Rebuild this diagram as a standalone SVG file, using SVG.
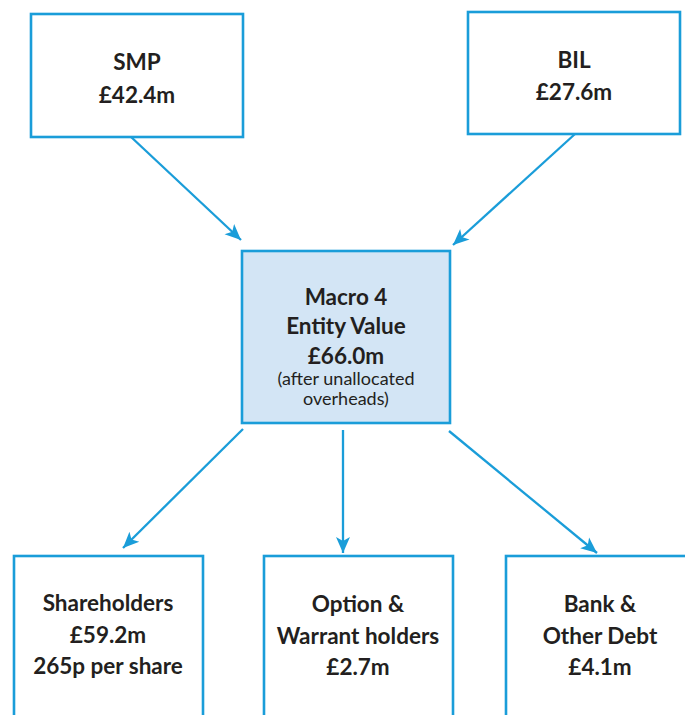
<svg xmlns="http://www.w3.org/2000/svg" width="685" height="715" viewBox="0 0 685 715">
<style>
.box{fill:#ffffff;stroke:#1a9dd9;stroke-width:2.6}
.hub{fill:#d3e5f5;stroke:#1a9dd9;stroke-width:2.6}
.t{font-family:Lato,"Open Sans","Liberation Sans",sans-serif;font-weight:bold;font-size:22.5px;fill:#231f20;text-anchor:middle}
.s{font-family:Lato,"Open Sans","Liberation Sans",sans-serif;font-size:18px;fill:#231f20;text-anchor:middle}
.c{stroke:#1a9dd9;stroke-width:2.3;fill:none}
</style>
<defs>
<marker id="ah" markerUnits="userSpaceOnUse" markerWidth="20" markerHeight="16" refX="16" refY="8" orient="auto">
<path d="M0,1 L16,8 L0,15 L4,8 z" fill="#1a9dd9"/>
</marker>
</defs>
<rect width="685" height="715" fill="#ffffff"/>
<g id="connectors">
<line class="c" x1="130" y1="136" x2="241" y2="240" marker-end="url(#ah)"/>
<line class="c" x1="575" y1="134" x2="453" y2="245" marker-end="url(#ah)"/>
<line class="c" x1="243" y1="429" x2="123" y2="548" marker-end="url(#ah)"/>
<line class="c" x1="343" y1="430" x2="343" y2="553" marker-end="url(#ah)"/>
<line class="c" x1="449" y1="431" x2="597" y2="553" marker-end="url(#ah)"/>
</g>
<g id="smp">
<rect class="box" x="31" y="14" width="212" height="123"/>
<text class="t" x="137" y="70">SMP</text>
<text class="t" x="137" y="103">£42.4m</text>
</g>
<g id="bil">
<rect class="box" x="468" y="12" width="212" height="122"/>
<text class="t" x="574" y="68">BIL</text>
<text class="t" x="574" y="100">£27.6m</text>
</g>
<g id="macro4">
<rect class="hub" x="242" y="251" width="208" height="172"/>
<text class="t" x="346" y="305">Macro 4</text>
<text class="t" x="346" y="334">Entity Value</text>
<text class="t" x="346" y="364">£66.0m</text>
<text class="s" x="346" y="385">(after unallocated</text>
<text class="s" x="346" y="405">overheads)</text>
</g>
<g id="shareholders">
<rect class="box" x="14" y="556" width="189" height="170"/>
<text class="t" x="108" y="611">Shareholders</text>
<text class="t" x="108" y="643">£59.2m</text>
<text class="t" x="108" y="674">265p per share</text>
</g>
<g id="options">
<rect class="box" x="264" y="556" width="189" height="170"/>
<text class="t" x="358" y="612">Option &amp;</text>
<text class="t" x="358" y="644">Warrant holders</text>
<text class="t" x="358" y="675">£2.7m</text>
</g>
<g id="bank">
<rect class="box" x="506" y="556" width="189" height="170"/>
<text class="t" x="600" y="612">Bank &amp;</text>
<text class="t" x="600" y="644">Other Debt</text>
<text class="t" x="600" y="675">£4.1m</text>
</g>
</svg>
